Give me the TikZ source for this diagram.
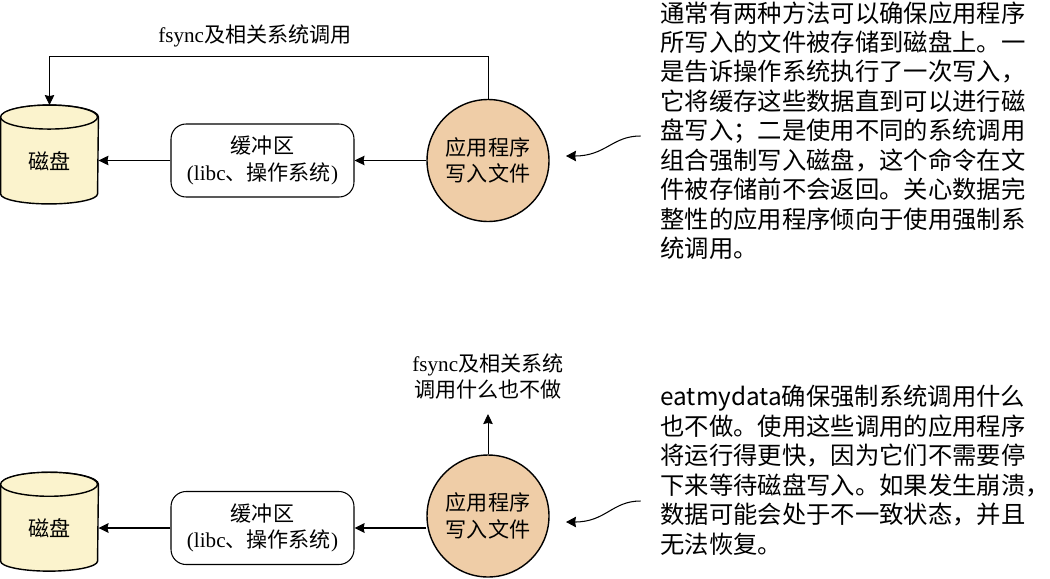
\documentclass[tikz,border=0pt]{standalone}
\usepackage{fontspec}
\setmainfont{Liberation Serif}
\newfontfamily\cjk{Noto Sans CJK SC}
\usetikzlibrary{arrows.meta}
\definecolor{diskfill}{HTML}{FBF3CD}
\definecolor{appfill}{HTML}{EFCDA7}
\tikzset{
 diskbody/.style={inner sep=0pt,minimum width=1.94cm,minimum height=1.96cm},
 diskline/.style={draw,fill=diskfill,line width=0.8pt},
 bufbox/.style={draw,line width=0.6pt,rounded corners=0.3cm,minimum width=3.66cm,minimum height=1.46cm,
  align=center,inner sep=0pt},
 appcircle/.style={circle,draw,line width=0.8pt,fill=appfill,minimum size=2.44cm,inner sep=0pt,align=center},
 calllabel/.style={align=center,inner sep=0pt,font=\fontsize{12}{15.2}\selectfont},
 notetext/.style={anchor=north west,align=left,inner sep=0pt,font=\fontsize{13.85}{16.75}\selectfont\cjk},
 squiggle/.style={->,line width=0.6pt,>={Stealth[length=0.2cm,width=0.21cm,inset=0.02cm]}}
}
% side walls first, then the lid, both hung on the corners of a disk node
\newcommand{\drawdisk}[1]{
 \path[diskline] ([yshift=-0.24cm]#1.north west) -- ([yshift=0.2cm]#1.south west)
  arc[start angle=180,end angle=360,x radius=0.97cm,y radius=0.2cm]
  -- ([yshift=-0.24cm]#1.north east)
  arc[start angle=0,end angle=180,x radius=0.97cm,y radius=0.24cm] -- cycle;
 \path[diskline] ([yshift=-0.24cm]#1.north west)
  arc[start angle=180,end angle=-180,x radius=0.97cm,y radius=0.24cm] -- cycle;
}
\begin{document}
\begin{tikzpicture}[x=0.02cm,y=-0.02cm,>={Stealth[length=0.2cm,width=0.19cm,inset=0.02cm]},line width=0.5pt,font=\fontsize{12}{15.2}\selectfont]
 \useasboundingbox (0,0) rectangle (1050,578);
 % upper row: every call reaches the disk
 \node[diskbody] (disk1) at (49.5,154.5) {};
 \drawdisk{disk1}
 \node[calllabel] (disk1text) at (49.5,161) {\cjk 磁盘};
 \node[bufbox] (buf1) at (262.5,160.5) {{\cjk 缓冲区}\\({libc}{\cjk 、操作系统})};
 \node[appcircle] (app1) at (488,160.5) {\cjk 应用程序\\\cjk 写入文件};
 \node[calllabel] (call1) at (255,36) {fsync{\cjk 及相关系统调用}};
 \coordinate (turn1) at (488,56);
 \draw[->] (app1.west) -- (buf1.east);
 \draw[->] (buf1.west) -- (buf1.west -| disk1.east);
 \draw[->] (app1.north) -- (turn1) -| (disk1.north);
 \node[notetext] (note1) at (660,1) {通常有两种方法可以确保应用程序\\所写入的文件被存储到磁盘上。一\\是告诉操作系统执行了一次写入，\\它将缓存这些数据直到可以进行磁\\盘写入；二是使用不同的系统调用\\组合强制写入磁盘，这个命令在文\\件被存储前不会返回。关心数据完\\整性的应用程序倾向于使用强制系\\统调用。};
 \coordinate (from1) at (640.5,136);
 \coordinate (tip1) at (566,156);
 \draw[squiggle] (from1) .. controls (612,136) and (606,156) .. (tip1);
 % lower row: the calls stop short
 \node[diskbody] (disk2) at (49.5,521.7) {};
 \drawdisk{disk2}
 \node[calllabel] (disk2text) at (49.5,528) {\cjk 磁盘};
 \node[bufbox] (buf2) at (262.5,528) {{\cjk 缓冲区}\\({libc}{\cjk 、操作系统})};
 \node[appcircle] (app2) at (488,516) {\cjk 应用程序\\\cjk 写入文件};
 \node[calllabel] (call2) at (488,376.5) {fsync{\cjk 及相关系统}\\{\cjk 调用什么也不做}};
 \coordinate (up2) at (488,414);
 \coordinate (enter2) at (app2.west |- buf2.east);
 \draw[->] (app2.north) -- (up2);
 \draw[->,line width=1.1pt] (enter2) -- (buf2.east);
 \draw[->,line width=1.1pt] (buf2.west) -- (buf2.west -| disk2.east);
 \node[notetext] (note2) at (660,385) {eatmydata确保强制系统调用什么\\也不做。使用这些调用的应用程序\\将运行得更快，因为它们不需要停\\下来等待磁盘写入。如果发生崩溃，\\数据可能会处于不一致状态，并且\\无法恢复。};
 \coordinate (from2) at (640.5,501);
 \coordinate (tip2) at (566,522);
 \draw[squiggle] (from2) .. controls (612,501) and (606,522) .. (tip2);
\end{tikzpicture}
\end{document}
